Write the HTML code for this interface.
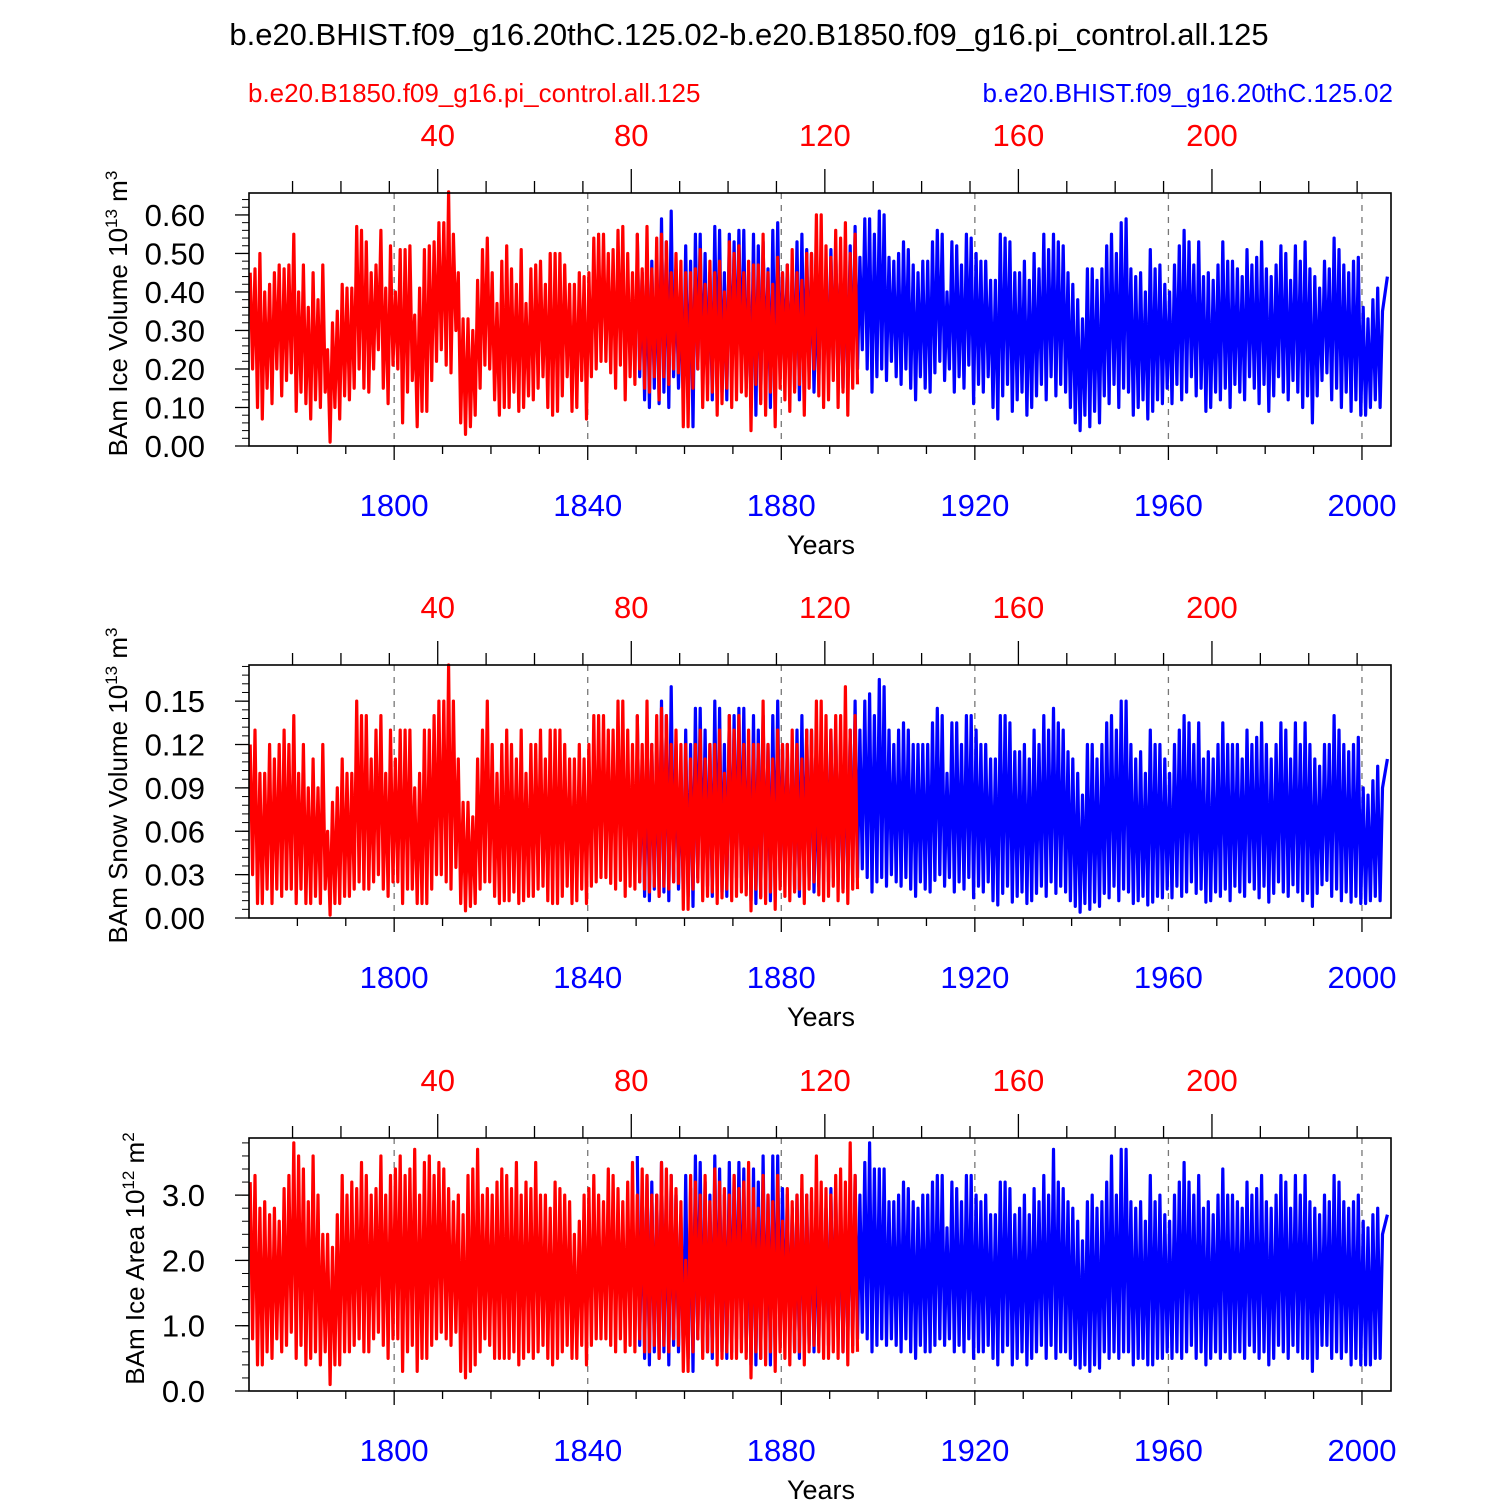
<!DOCTYPE html>
<html><head><meta charset="utf-8">
<style>
html,body{margin:0;padding:0;background:#fff;}
svg{display:block;font-family:"Liberation Sans",Arial,sans-serif;}
</style></head>
<body>
<svg id="chart" width="1500" height="1500" viewBox="0 0 1500 1500">
<text x="749" y="45" text-anchor="middle" font-size="31" fill="#000">b.e20.BHIST.f09_g16.20thC.125.02-b.e20.B1850.f09_g16.pi_control.all.125</text>
<text x="248" y="102" font-size="26" fill="#ff0000">b.e20.B1850.f09_g16.pi_control.all.125</text>
<text x="1393" y="102" text-anchor="end" font-size="26" fill="#0000ff">b.e20.BHIST.f09_g16.20thC.125.02</text>
</svg>
<script>
// ---- data (annual maxima / minima of monthly series) ----
const redStartYear = 1770; // control run start aligned to 1770
const blueStartYear = 1850;
const bottomTicks = [1800,1840,1880,1920,1960,2000];
const topTicks = [40,80,120,160,200];

const iceVolRedMax = [0.45,0.46,0.50,0.40,0.42,0.45,0.47,0.46,0.47,0.55,0.40,0.47,0.36,0.45,0.38,0.47,0.25,0.32,0.35,0.42,0.41,0.41,0.57,0.56,0.53,0.45,0.47,0.56,0.41,0.52,0.40,0.51,0.51,0.52,0.34,0.41,0.51,0.52,0.53,0.58,0.58,0.66,0.55,0.45,0.33,0.33,0.30,0.43,0.51,0.54,0.45,0.37,0.48,0.52,0.46,0.42,0.51,0.37,0.46,0.47,0.48,0.42,0.50,0.50,0.50,0.47,0.42,0.42,0.45,0.44,0.45,0.54,0.55,0.55,0.50,0.51,0.56,0.57,0.50,0.45,0.55,0.46,0.57,0.46,0.54,0.55,0.53,0.45,0.50,0.48,0.45,0.45,0.46,0.51,0.42,0.48,0.45,0.48,0.40,0.53,0.50,0.52,0.45,0.48,0.47,0.47,0.55,0.45,0.42,0.49,0.45,0.47,0.51,0.45,0.43,0.50,0.50,0.60,0.60,0.52,0.49,0.56,0.54,0.58,0.50,0.55];
const iceVolRedMin = [0.20,0.10,0.07,0.15,0.11,0.20,0.13,0.17,0.19,0.09,0.14,0.11,0.07,0.12,0.10,0.14,0.01,0.10,0.07,0.13,0.12,0.15,0.20,0.15,0.14,0.20,0.25,0.15,0.11,0.21,0.20,0.06,0.14,0.17,0.05,0.09,0.09,0.17,0.22,0.25,0.21,0.19,0.30,0.06,0.03,0.05,0.08,0.15,0.21,0.20,0.12,0.08,0.10,0.10,0.14,0.09,0.10,0.13,0.12,0.15,0.18,0.10,0.08,0.09,0.13,0.18,0.09,0.10,0.17,0.07,0.18,0.20,0.22,0.22,0.19,0.15,0.21,0.12,0.18,0.16,0.20,0.15,0.14,0.18,0.12,0.18,0.16,0.20,0.19,0.05,0.05,0.15,0.20,0.10,0.12,0.14,0.08,0.11,0.15,0.10,0.12,0.14,0.13,0.04,0.16,0.11,0.08,0.14,0.05,0.15,0.12,0.09,0.14,0.16,0.08,0.15,0.20,0.13,0.10,0.12,0.17,0.10,0.14,0.08,0.15,0.16];
const iceVolBlueMax = [0.55,0.45,0.49,0.48,0.47,0.59,0.53,0.61,0.46,0.38,0.52,0.48,0.55,0.55,0.50,0.45,0.57,0.56,0.45,0.55,0.53,0.56,0.56,0.45,0.55,0.52,0.53,0.46,0.56,0.58,0.45,0.47,0.44,0.53,0.55,0.51,0.50,0.40,0.47,0.44,0.51,0.51,0.48,0.45,0.52,0.57,0.49,0.59,0.59,0.55,0.61,0.60,0.49,0.48,0.50,0.53,0.51,0.47,0.45,0.48,0.48,0.53,0.56,0.55,0.40,0.53,0.52,0.47,0.55,0.54,0.50,0.48,0.48,0.43,0.43,0.55,0.54,0.53,0.45,0.45,0.48,0.43,0.50,0.46,0.55,0.51,0.55,0.53,0.52,0.45,0.42,0.38,0.33,0.46,0.46,0.43,0.46,0.52,0.55,0.50,0.58,0.59,0.46,0.44,0.45,0.40,0.51,0.46,0.47,0.42,0.40,0.47,0.52,0.56,0.53,0.47,0.53,0.44,0.45,0.43,0.47,0.53,0.48,0.48,0.46,0.44,0.51,0.47,0.49,0.53,0.46,0.44,0.47,0.52,0.50,0.43,0.52,0.48,0.53,0.46,0.44,0.41,0.48,0.46,0.54,0.51,0.47,0.45,0.48,0.49,0.36,0.33,0.38,0.41,0.35,0.44];
const iceVolBlueMin = [0.18,0.12,0.10,0.15,0.11,0.14,0.10,0.18,0.15,0.14,0.12,0.05,0.20,0.15,0.16,0.12,0.18,0.14,0.12,0.16,0.20,0.20,0.15,0.10,0.08,0.12,0.19,0.10,0.15,0.18,0.22,0.20,0.15,0.12,0.16,0.19,0.14,0.17,0.22,0.18,0.20,0.22,0.15,0.20,0.18,0.20,0.25,0.20,0.14,0.18,0.20,0.17,0.22,0.18,0.16,0.20,0.15,0.12,0.18,0.15,0.14,0.19,0.22,0.17,0.20,0.14,0.18,0.15,0.21,0.11,0.16,0.14,0.18,0.10,0.07,0.13,0.16,0.09,0.12,0.14,0.08,0.10,0.13,0.16,0.12,0.18,0.13,0.16,0.14,0.10,0.06,0.04,0.08,0.05,0.09,0.06,0.13,0.11,0.16,0.10,0.15,0.14,0.08,0.10,0.12,0.07,0.09,0.12,0.11,0.15,0.11,0.16,0.12,0.14,0.18,0.13,0.15,0.09,0.10,0.14,0.12,0.15,0.10,0.16,0.14,0.12,0.18,0.15,0.11,0.16,0.09,0.13,0.18,0.14,0.12,0.17,0.14,0.10,0.13,0.06,0.13,0.17,0.19,0.12,0.15,0.10,0.14,0.09,0.12,0.08,0.08,0.10,0.12,0.10];

const snowVolRedMax = [0.12,0.13,0.10,0.10,0.12,0.11,0.12,0.13,0.12,0.14,0.10,0.12,0.09,0.11,0.09,0.12,0.06,0.08,0.09,0.11,0.10,0.10,0.15,0.14,0.14,0.11,0.13,0.14,0.10,0.13,0.11,0.13,0.13,0.13,0.09,0.10,0.13,0.13,0.14,0.15,0.15,0.175,0.15,0.11,0.08,0.08,0.07,0.11,0.13,0.15,0.12,0.10,0.12,0.13,0.12,0.11,0.13,0.10,0.12,0.12,0.13,0.11,0.13,0.13,0.13,0.12,0.11,0.11,0.12,0.11,0.12,0.14,0.14,0.14,0.13,0.13,0.15,0.15,0.13,0.12,0.14,0.12,0.15,0.12,0.14,0.145,0.14,0.12,0.13,0.12,0.12,0.11,0.12,0.13,0.11,0.12,0.12,0.13,0.10,0.14,0.13,0.14,0.12,0.13,0.12,0.12,0.15,0.12,0.11,0.13,0.12,0.12,0.13,0.12,0.11,0.13,0.13,0.15,0.15,0.14,0.13,0.14,0.14,0.16,0.13,0.14];
const snowVolRedMin = [0.03,0.01,0.01,0.02,0.01,0.02,0.015,0.02,0.02,0.01,0.02,0.01,0.01,0.015,0.01,0.02,0.002,0.01,0.01,0.015,0.015,0.02,0.025,0.02,0.02,0.025,0.03,0.02,0.015,0.025,0.025,0.01,0.02,0.02,0.01,0.01,0.01,0.02,0.03,0.03,0.025,0.02,0.035,0.01,0.005,0.008,0.01,0.02,0.025,0.025,0.015,0.01,0.012,0.012,0.018,0.01,0.012,0.015,0.015,0.02,0.022,0.012,0.01,0.01,0.015,0.022,0.01,0.012,0.02,0.01,0.022,0.025,0.028,0.028,0.024,0.02,0.026,0.015,0.022,0.02,0.025,0.02,0.018,0.022,0.015,0.022,0.02,0.025,0.024,0.006,0.006,0.02,0.025,0.012,0.015,0.018,0.01,0.014,0.02,0.012,0.015,0.018,0.016,0.005,0.02,0.014,0.01,0.018,0.006,0.02,0.015,0.012,0.018,0.02,0.01,0.02,0.025,0.016,0.012,0.015,0.022,0.012,0.018,0.01,0.02,0.02];
const snowVolBlueMax = [0.14,0.11,0.12,0.12,0.12,0.15,0.14,0.16,0.12,0.10,0.13,0.12,0.145,0.145,0.13,0.12,0.15,0.145,0.12,0.14,0.14,0.145,0.145,0.12,0.14,0.13,0.14,0.12,0.14,0.15,0.12,0.12,0.115,0.13,0.14,0.13,0.13,0.10,0.12,0.11,0.13,0.13,0.12,0.12,0.13,0.15,0.13,0.15,0.155,0.14,0.165,0.16,0.13,0.12,0.13,0.135,0.13,0.12,0.12,0.12,0.12,0.135,0.145,0.14,0.10,0.135,0.135,0.12,0.14,0.14,0.13,0.12,0.12,0.11,0.11,0.14,0.14,0.135,0.115,0.115,0.12,0.11,0.13,0.12,0.14,0.13,0.145,0.135,0.13,0.115,0.11,0.10,0.085,0.12,0.12,0.11,0.12,0.135,0.14,0.13,0.15,0.15,0.12,0.11,0.115,0.10,0.13,0.12,0.12,0.11,0.10,0.12,0.13,0.14,0.135,0.12,0.135,0.11,0.115,0.11,0.12,0.135,0.12,0.12,0.12,0.11,0.13,0.12,0.125,0.135,0.12,0.11,0.12,0.135,0.13,0.11,0.135,0.12,0.135,0.12,0.11,0.105,0.12,0.12,0.14,0.13,0.12,0.115,0.12,0.125,0.09,0.085,0.095,0.105,0.09,0.11];
const snowVolBlueMin = [0.025,0.015,0.012,0.02,0.015,0.018,0.012,0.025,0.02,0.018,0.015,0.008,0.028,0.02,0.022,0.015,0.025,0.018,0.015,0.02,0.028,0.028,0.02,0.012,0.01,0.015,0.026,0.012,0.02,0.025,0.03,0.028,0.02,0.015,0.022,0.026,0.018,0.022,0.03,0.025,0.028,0.03,0.02,0.028,0.025,0.028,0.034,0.028,0.018,0.025,0.028,0.022,0.03,0.025,0.022,0.028,0.02,0.015,0.025,0.02,0.018,0.026,0.03,0.022,0.028,0.018,0.025,0.02,0.028,0.014,0.022,0.018,0.025,0.012,0.009,0.017,0.022,0.011,0.015,0.018,0.01,0.012,0.017,0.022,0.015,0.025,0.017,0.022,0.018,0.012,0.008,0.004,0.01,0.006,0.011,0.008,0.017,0.014,0.022,0.012,0.02,0.018,0.01,0.012,0.015,0.009,0.011,0.015,0.014,0.02,0.014,0.022,0.015,0.018,0.025,0.017,0.02,0.011,0.012,0.018,0.015,0.02,0.012,0.022,0.018,0.015,0.025,0.02,0.014,0.022,0.011,0.017,0.025,0.018,0.015,0.023,0.018,0.012,0.017,0.008,0.017,0.023,0.026,0.015,0.02,0.012,0.018,0.011,0.015,0.01,0.01,0.012,0.015,0.012];

const areaRedMax = [3.2,3.3,2.8,2.9,2.7,2.8,2.6,3.1,3.3,3.8,3.6,3.4,2.9,3.6,3.0,2.4,2.4,2.2,2.7,3.3,3.0,3.2,3.1,3.5,3.3,3.0,3.1,3.6,3.0,3.3,3.4,3.6,3.3,3.4,3.7,3.0,3.5,3.6,3.3,3.5,3.4,3.1,2.9,3.0,2.7,3.3,3.4,3.7,3.0,3.1,3.0,3.2,3.4,3.3,3.1,3.5,3.0,3.2,3.1,3.5,3.0,3.0,2.8,3.2,3.1,3.0,2.9,2.4,2.6,3.0,3.1,3.3,3.0,2.9,3.4,3.3,3.1,2.9,3.2,3.5,3.0,3.4,3.3,3.0,3.0,3.5,3.4,3.3,3.1,2.9,2.0,3.3,3.2,3.0,3.3,2.9,3.4,3.2,3.1,3.0,3.3,3.1,3.2,3.5,3.1,2.8,3.3,3.0,2.9,3.3,2.6,3.1,2.9,3.0,3.3,3.0,3.1,3.6,3.2,3.1,3.0,3.3,3.4,3.2,3.8,3.3];
const areaRedMin = [0.8,0.4,0.4,0.6,0.5,0.8,0.6,0.7,0.9,0.5,0.7,0.4,0.5,0.6,0.4,0.6,0.1,0.4,0.4,0.6,0.6,0.7,0.8,0.6,0.6,0.8,0.9,0.7,0.5,0.8,0.8,0.3,0.6,0.7,0.3,0.5,0.5,0.7,0.8,0.9,0.8,0.7,0.9,0.3,0.2,0.3,0.4,0.6,0.8,0.7,0.5,0.5,0.5,0.5,0.6,0.4,0.5,0.6,0.5,0.6,0.7,0.5,0.4,0.5,0.6,0.7,0.5,0.5,0.7,0.4,0.7,0.8,0.8,0.8,0.7,0.6,0.8,0.6,0.7,0.6,0.8,0.6,0.6,0.7,0.5,0.7,0.6,0.8,0.7,0.3,0.3,0.6,0.8,0.5,0.6,0.6,0.4,0.5,0.6,0.5,0.5,0.6,0.5,0.2,0.6,0.5,0.4,0.6,0.3,0.6,0.5,0.4,0.6,0.6,0.4,0.6,0.7,0.6,0.5,0.5,0.6,0.5,0.6,0.4,0.6,0.6];
const areaBlueMax = [3.6,3.1,3.3,3.2,3.0,3.5,3.1,3.3,3.0,2.7,3.3,3.1,3.6,3.5,3.2,3.0,3.6,3.4,3.0,3.5,3.3,3.5,3.4,3.0,3.4,3.2,3.6,3.0,3.6,3.6,3.1,3.0,2.8,3.0,3.1,3.0,2.9,2.6,3.0,2.8,3.1,3.1,3.0,2.8,3.0,3.3,3.0,3.5,3.8,3.4,3.4,3.4,2.9,2.9,3.0,3.2,3.1,2.9,2.8,3.0,3.0,3.2,3.3,3.3,2.5,3.2,3.1,2.9,3.3,3.3,3.0,2.9,3.0,2.7,2.7,3.2,3.2,3.1,2.7,2.8,3.0,2.7,3.1,2.9,3.3,3.0,3.7,3.2,3.1,2.9,2.8,2.6,2.3,2.9,3.0,2.8,2.9,3.2,3.6,3.0,3.7,3.7,2.9,2.8,2.9,2.6,3.3,2.9,3.0,2.7,2.6,3.0,3.2,3.5,3.2,3.0,3.3,2.8,2.9,2.7,3.0,3.4,3.0,3.0,2.9,2.8,3.2,3.0,3.1,3.3,2.9,2.8,3.0,3.3,3.2,2.8,3.3,3.0,3.3,2.9,2.8,2.7,3.0,2.9,3.3,3.2,2.9,2.8,2.9,3.0,2.6,2.5,2.7,2.8,2.4,2.7];
const areaBlueMin = [0.7,0.5,0.4,0.6,0.5,0.6,0.4,0.7,0.6,0.6,0.5,0.3,0.8,0.6,0.6,0.5,0.7,0.6,0.5,0.6,0.8,0.8,0.6,0.4,0.4,0.5,0.7,0.4,0.6,0.7,0.8,0.8,0.6,0.5,0.6,0.7,0.6,0.7,0.8,0.7,0.8,0.8,0.6,0.8,0.7,0.8,0.9,0.8,0.6,0.7,0.8,0.7,0.8,0.7,0.6,0.8,0.6,0.5,0.7,0.6,0.6,0.7,0.8,0.7,0.8,0.6,0.7,0.6,0.8,0.5,0.6,0.6,0.7,0.5,0.4,0.6,0.7,0.4,0.5,0.6,0.4,0.5,0.6,0.7,0.5,0.7,0.5,0.6,0.6,0.5,0.4,0.35,0.4,0.3,0.4,0.35,0.6,0.5,0.6,0.5,0.6,0.6,0.4,0.5,0.5,0.4,0.4,0.5,0.5,0.6,0.5,0.6,0.5,0.6,0.7,0.5,0.6,0.4,0.5,0.6,0.5,0.6,0.5,0.6,0.6,0.5,0.7,0.6,0.5,0.6,0.4,0.5,0.7,0.6,0.5,0.7,0.6,0.5,0.5,0.3,0.5,0.7,0.7,0.5,0.6,0.5,0.6,0.4,0.5,0.4,0.4,0.4,0.5,0.5];

const panels = [
  {name:'ice-volume', top:193, ymax:0.657, yTicks:[0.00,0.10,0.20,0.30,0.40,0.50,0.60], yDec:2, minor:0.02,
   title:'BAm Ice Volume 10', sup:'13', unit:'m', unitSup:'3', titleX:118,
   redMax:iceVolRedMax, redMin:iceVolRedMin, blueMax:iceVolBlueMax, blueMin:iceVolBlueMin},
  {name:'snow-volume', top:665, ymax:0.175, yTicks:[0.00,0.03,0.06,0.09,0.12,0.15], yDec:2, minor:0.006,
   title:'BAm Snow Volume 10', sup:'13', unit:'m', unitSup:'3', titleX:118,
   redMax:snowVolRedMax, redMin:snowVolRedMin, blueMax:snowVolBlueMax, blueMin:snowVolBlueMin},
  {name:'ice-area', top:1138, ymax:3.875, yTicks:[0.0,1.0,2.0,3.0], yDec:1, minor:0.2,
   title:'BAm Ice Area 10', sup:'12', unit:'m', unitSup:'2', titleX:135,
   redMax:areaRedMax, redMin:areaRedMin, blueMax:areaBlueMax, blueMin:areaBlueMin}
];

const NS = 'http://www.w3.org/2000/svg';
const svg = document.getElementById('chart');
const L = 249, R = 1391, H = 253;
const xMin = 1770, xMax = 2006.0;
function xScale(yr){ return L + (yr - xMin) / (xMax - xMin) * (R - L); }
function mk(tag, attrs, parent){
  const e = document.createElementNS(NS, tag);
  for (const k in attrs) e.setAttribute(k, attrs[k]);
  (parent || svg).appendChild(e);
  return e;
}

panels.forEach(p => {
  const g = mk('g', {});
  
  
  const B = p.top + H;
  const yScale = v => B - v / p.ymax * H;

  bottomTicks.forEach(t => {
    const gl = mk('line', {x1:xScale(t), x2:xScale(t), y1:p.top, y2:B, stroke:'#777', 'stroke-width':1.3, 'stroke-dasharray':'6 6'}, g);
    
    
  });

  const series = [
    {mx:p.blueMax, mn:p.blueMin, start:blueStartYear, color:'#0000ff', nm:'historical-series'},
    {mx:p.redMax, mn:p.redMin, start:redStartYear, color:'#ff0000', nm:'control-series'}
  ];
  const clipId = 'clip-' + p.name;
  const cp = mk('clipPath', {id:clipId}, g);
  mk('rect', {x:L, y:p.top - 3, width:R - L, height:H + 6}, cp);
  series.forEach(s => {
    const pts = [];
    for (let i = 0; i < s.mx.length; i++) {
      pts.push(xScale(s.start + i + 0.25).toFixed(1) + ',' + yScale(s.mx[i]).toFixed(1));
      if (i < s.mn.length) pts.push(xScale(s.start + i + 0.75).toFixed(1) + ',' + yScale(s.mn[i]).toFixed(1));
    }
    const pl = mk('polyline', {points:pts.join(' '), fill:'none', stroke:s.color, 'stroke-width':3.2, 'stroke-linejoin':'round', 'clip-path':'url(#' + clipId + ')'}, g);
    
    
  });

  const fr = mk('rect', {x:L, y:p.top, width:R - L, height:H, fill:'none', stroke:'#000', 'stroke-width':1.6}, g);
  
  

  for (let yr = 1780; yr <= 2000; yr += 10) {
    const major = bottomTicks.includes(yr);
    mk('line', {x1:xScale(yr), x2:xScale(yr), y1:B, y2:B + (major ? 14 : 8), stroke:'#000', 'stroke-width':1.3}, g);
  }
  bottomTicks.forEach(t => {
    const tx = mk('text', {x:xScale(t), y:B + 70, 'text-anchor':'middle', 'font-size':31, fill:'#0000ff'}, g);
    tx.textContent = t;
    
    
  });
  const yt = mk('text', {x:821, y:B + 108, 'text-anchor':'middle', 'font-size':27, fill:'#000'}, g);
  yt.textContent = 'Years';
  
  

  for (let yr = 10; yr <= 230; yr += 10) {
    const X = xScale(redStartYear - 1 + yr);
    if (X > R) break;
    const major = topTicks.includes(yr);
    mk('line', {x1:X, x2:X, y1:p.top, y2:p.top - (major ? 24 : 12), stroke:'#000', 'stroke-width':1.3}, g);
  }
  topTicks.forEach(t => {
    const tx = mk('text', {x:xScale(redStartYear - 1 + t), y:p.top - 47, 'text-anchor':'middle', 'font-size':31, fill:'#ff0000'}, g);
    tx.textContent = t;
    
    
  });

  for (let v = 0; v <= p.ymax + 1e-9; v += p.minor) {
    mk('line', {x1:L, x2:L - 7, y1:yScale(v), y2:yScale(v), stroke:'#000', 'stroke-width':1}, g);
  }
  p.yTicks.forEach(v => {
    mk('line', {x1:L, x2:L - 14, y1:yScale(v), y2:yScale(v), stroke:'#000', 'stroke-width':1.3}, g);
    const tx = mk('text', {x:205, y:yScale(v) + 11, 'text-anchor':'end', 'font-size':31, fill:'#000'}, g);
    tx.textContent = v.toFixed(p.yDec);
    
    
  });

  const cy = p.top + H / 2 - 6;
  const ttl = mk('text', {x:0, y:0, 'text-anchor':'middle', 'font-size':26, fill:'#000', transform:'translate(' + (p.titleX + 9) + ',' + cy + ') rotate(-90)'}, g);
  
  
  const t1 = mk('tspan', {}, ttl); t1.textContent = p.title;
  const t2 = mk('tspan', {dy:-10, 'font-size':17}, ttl); t2.textContent = p.sup;
  const t3 = mk('tspan', {dy:10}, ttl); t3.textContent = ' ' + p.unit;
  const t4 = mk('tspan', {dy:-10, 'font-size':17}, ttl); t4.textContent = p.unitSup;
});
</script>
</body></html>
